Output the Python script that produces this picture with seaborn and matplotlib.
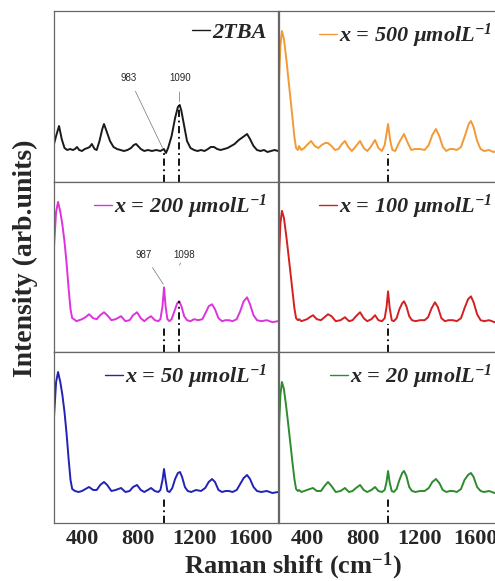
import numpy as np
import pandas as pd
import seaborn as sns
import matplotlib.pyplot as plt

# %%
# spectra (Raman shift, intensity above baseline in a.u.)
x_2tba = [200, 215, 236, 255, 275, 295, 315, 335, 350, 364, 380, 400, 420, 440, 455, 470, 490, 505, 525, 545, 557,
          575, 600, 625, 650, 675, 700, 725, 750, 770, 786, 800, 820, 845, 870, 900, 930, 960, 985, 1000, 1015,
          1040, 1065, 1085, 1098, 1110, 1130, 1150, 1175, 1200, 1225, 1250, 1275, 1300, 1320, 1343, 1365, 1390,
          1415, 1440, 1465, 1490, 1520, 1550, 1579, 1600, 1625, 1650, 1675, 1700, 1725, 1750, 1775, 1800]
y_2tba = [7, 15, 25, 12, 3, 1, 2, 1, 2, 4, 1, 0, 2, 3, 4, 7, 2, 1, 10, 22, 27,
          20, 10, 4, 2, 1, 0, 1, 3, 6, 7, 5, 2, 0, 1, 0, 1, 0, 2, -2, 3,
          15, 33, 44, 46, 40, 25, 10, 3, 1, 0, 1, 0, 2, 4, 4, 2, 1,
          2, 3, 5, 7, 11, 14, 17, 12, 5, 1, 0, 1, -1, 0, 1, 0]

x_500 = [200, 210, 221, 235, 250, 265, 280, 295, 310, 322, 335, 343, 360, 380, 400, 429, 455, 480, 505, 530, 550,
         575, 600, 625, 650, 671, 695, 720, 745, 779, 805, 830, 855, 886, 910, 935, 955, 979, 995, 1010, 1030,
         1060, 1093, 1120, 1145, 1170, 1207, 1240, 1270, 1295, 1321, 1345, 1370, 1395, 1420, 1443, 1470, 1500,
         1530, 1555, 1571, 1590, 1615, 1640, 1665, 1700, 1730, 1760, 1800]
y_500 = [70, 105, 120, 112, 95, 75, 55, 35, 14, 3, 1, 5, 1, 3, 6, 10, 5, 3, 6, 8, 8,
         5, 1, 2, 7, 10, 4, 0, 4, 10, 3, 0, 4, 11, 3, 0, 6, 27, 10, 1, 0,
         9, 17, 8, 1, 2, 2, 1, 6, 16, 22, 15, 4, 0, 2, 2, 1, 4,
         16, 27, 30, 24, 10, 2, 0, 1, -1, 0, 0]

x_200 = [200, 215, 229, 245, 260, 275, 290, 305, 318, 330, 343, 360, 380, 400, 425, 450, 480, 505, 530, 557,
         580, 610, 640, 679, 710, 740, 765, 793, 820, 845, 870, 893, 920, 945, 960, 975, 986, 997, 1010, 1025,
         1040, 1060, 1080, 1095, 1110, 1130, 1150, 1175, 1200, 1230, 1260, 1285, 1305, 1329, 1350, 1375,
         1400, 1425, 1450, 1475, 1505, 1530, 1555, 1579, 1600, 1625, 1650, 1680, 1720, 1760, 1800]
y_200 = [75, 110, 120, 110, 97, 80, 58, 32, 12, 3, 2, 0, 1, 2, 4, 7, 3, 2, 6, 9,
         6, 1, 2, 5, 0, 1, 6, 9, 3, 0, 3, 5, 1, 0, 2, 15, 34, 15, 2, 0,
         2, 10, 18, 20, 15, 5, 1, 0, 2, 1, 2, 9, 15, 17, 12, 3,
         0, 1, 1, 0, 2, 10, 20, 24, 17, 6, 1, 0, 1, -1, 0]

x_100 = [200, 210, 221, 235, 250, 265, 280, 295, 310, 322, 335, 343, 360, 380, 400, 420, 443, 470, 500, 525, 550,
         575, 605, 640, 671, 700, 725, 750, 779, 805, 830, 860, 886, 910, 935, 955, 968, 979, 990, 1005, 1020,
         1040, 1060, 1080, 1093, 1110, 1130, 1150, 1175, 1207, 1240, 1265, 1290, 1314, 1335, 1360, 1385,
         1410, 1443, 1470, 1500, 1525, 1550, 1571, 1590, 1615, 1640, 1665, 1700, 1740, 1800]
y_100 = [65, 98, 111, 104, 88, 70, 51, 32, 13, 3, 1, 2, 0, 1, 2, 4, 6, 2, 1, 4, 7,
         5, 0, 1, 4, 0, 1, 5, 9, 3, 0, 2, 6, 1, 0, 3, 14, 30, 14, 1, 0,
         3, 12, 18, 20, 15, 5, 1, 0, 1, 1, 4, 13, 19, 14, 3, 0,
         1, 1, 0, 3, 13, 22, 25, 19, 7, 1, 0, 1, -1, 0]

x_50 = [200, 215, 229, 245, 260, 275, 290, 305, 318, 330, 350, 375, 400, 425, 450, 480, 505, 530, 557,
        580, 610, 640, 679, 710, 740, 765, 793, 820, 845, 870, 893, 920, 945, 960, 975, 986, 997, 1010, 1025,
        1045, 1065, 1085, 1100, 1115, 1135, 1155, 1180, 1214, 1250, 1280, 1305, 1329, 1350, 1375,
        1400, 1425, 1450, 1475, 1505, 1530, 1555, 1579, 1600, 1625, 1650, 1680, 1720, 1760, 1800]
y_50 = [75, 110, 120, 110, 97, 80, 58, 32, 12, 3, 1, 0, 1, 3, 5, 2, 2, 7, 10,
        7, 1, 2, 4, 0, 1, 5, 7, 2, 0, 2, 4, 1, 0, 2, 12, 23, 12, 1, 0,
        4, 13, 19, 20, 15, 5, 1, 0, 2, 1, 4, 10, 13, 10, 2,
        0, 1, 1, 0, 2, 8, 14, 17, 13, 5, 1, 0, 1, -1, 0]

x_20 = [200, 210, 221, 235, 250, 265, 280, 295, 310, 322, 335, 343, 360, 380, 400, 420, 443, 470, 500, 525, 550,
        575, 605, 640, 671, 700, 725, 750, 779, 805, 830, 860, 886, 910, 935, 955, 968, 979, 990, 1005, 1020,
        1040, 1060, 1080, 1093, 1110, 1130, 1150, 1175, 1207, 1240, 1270, 1295, 1321, 1345, 1370, 1395,
        1420, 1443, 1470, 1500, 1525, 1550, 1571, 1590, 1615, 1640, 1665, 1700, 1740, 1800]
y_20 = [65, 97, 110, 103, 87, 69, 50, 31, 13, 3, 1, 2, 0, 1, 2, 3, 4, 1, 1, 6, 10,
        6, 0, 1, 4, 0, 1, 4, 7, 2, 0, 2, 5, 1, 0, 2, 10, 21, 10, 1, 0,
        3, 12, 19, 21, 16, 5, 1, 0, 1, 1, 4, 10, 13, 9, 2, 0,
        1, 1, 0, 3, 12, 17, 19, 15, 5, 1, 0, 1, -1, 0]

labels = ['2TBA', r'x = 500 µmolL$^{-1}$', r'x = 200 µmolL$^{-1}$',
          r'x = 100 µmolL$^{-1}$', r'x = 50 µmolL$^{-1}$', r'x = 20 µmolL$^{-1}$']
colors = ['#1a1a1a', '#f29a35', '#dd33dd', '#d42020', '#2222b4', '#2e8b2e']
xs = [x_2tba, x_500, x_200, x_100, x_50, x_20]
ys = [y_2tba, y_500, y_200, y_100, y_50, y_20]

# dash-dot guide lines: wavenumber and height of the top end
marks_x = [[983, 1090], [979], [986, 1093], [979], [986], [979]]
marks_top = [[-2, 46], [-3], [-4, 20], [-3], [-4], [-4]]

# peak labels: text, peak position/height, label position
ann = {0: [('983', 979, 2, 736, 73), ('1090', 1095, 48, 1100, 73)],
       2: [('987', 986, 36, 843, 67), ('1098', 1093, 55, 1129, 67)]}

xticks = [400, 800, 1200, 1600]

# %%
sns.set_theme(style='white')
plt.rcParams['font.family'] = ['Liberation Serif', 'DejaVu Serif']
plt.rcParams['mathtext.default'] = 'regular'

fig = plt.figure(figsize=(4.95, 5.81), dpi=100)
W, H = 495, 581
cols = [54, 279]
rows = [(11, 182), (182, 352), (352, 523)]
order = [(0, 0), (0, 1), (1, 0), (1, 1), (2, 0), (2, 1)]

for i, (r, c) in enumerate(order):
    top, bot = rows[r]
    ax = fig.add_axes([cols[c] / W, 1 - bot / H, 224 / W, (bot - top) / H])
    df = pd.DataFrame({'shift': xs[i], 'I': ys[i]})
    sns.lineplot(data=df, x='shift', y='I', ax=ax, color=colors[i], lw=1.4,
                 label=labels[i], sort=False, estimator=None)
    ax.set_xlim(200, 1800)
    ax.set_ylim(-31, 140)
    ax.set_xlabel('')
    ax.set_ylabel('')
    ax.set_yticks([])
    for sp in ax.spines.values():
        sp.set_color('#666666')
        sp.set_linewidth(0.9)
    if r == 2:
        ax.set_xticks(xticks)
        ax.tick_params(axis='x', direction='in', length=3, width=0.8, color='#555555',
                       labelsize=16, pad=4)
        for t in ax.get_xticklabels():
            t.set_fontweight('bold')
    else:
        ax.set_xticks([])
    for mx, mt in zip(marks_x[i], marks_top[i]):
        ax.plot([mx, mx], [-31, mt], color='black', lw=1.3, dashes=(4, 2, 1, 2))
    for txt, px, py, tx, ty in ann.get(i, []):
        ax.annotate(txt, xy=(px, py), xytext=(tx, ty), ha='center', va='center',
                    fontsize=7, family='Liberation Sans',
                    arrowprops=dict(arrowstyle='-', color='0.45', lw=0.5, shrinkA=4, shrinkB=1))
    leg = ax.legend(loc='upper right', frameon=False, handlelength=0.8, handletextpad=0.1,
                    borderaxespad=0.1, prop=dict(family='Liberation Serif', weight='bold',
                                                 style='italic', size=16))
    for h in leg.get_lines():
        h.set_linewidth(1.0)

fig.text(25 / W, 1 - 258 / H, 'Intensity (arb.units)', rotation=90, ha='center', va='center',
         fontsize=20, fontweight='bold')
fig.text(293 / W, 1 - 566 / H, r'Raman shift (cm$^{-1}$)', ha='center', va='center',
         fontsize=19, fontweight='bold')

fig.savefig('out.png', dpi=100)
